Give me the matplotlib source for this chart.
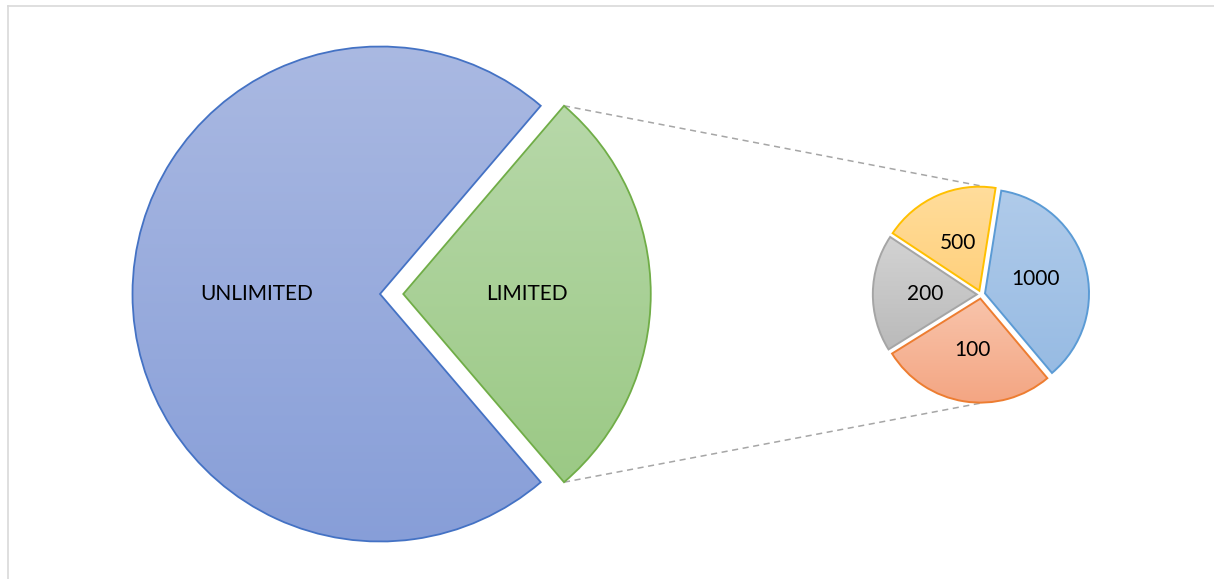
import numpy as np
import matplotlib
matplotlib.use("Agg")
import matplotlib.pyplot as plt
from matplotlib.colors import LinearSegmentedColormap

# main pie: unlimited vs limited plans
main_labels = ["UNLIMITED", "LIMITED"]
main_values = [29, 11]

# breakdown of the limited slice
sub_labels = ["1000", "100", "200", "500"]
sub_values = [4, 3, 2, 2]

W, H = 1214, 579

MAIN_STYLE = {
    "UNLIMITED": ("#AAB9E2", "#879ED8", "#4472C4"),
    "LIMITED": ("#B7D8A9", "#9BC985", "#70AD47"),
}
SUB_STYLE = {
    "1000": ("#B0CBEA", "#97BBE3", "#5B9BD5"),
    "100": ("#F8C4AB", "#F4A582", "#ED7D31"),
    "200": ("#D3D3D3", "#BABABA", "#A5A5A5"),
    "500": ("#FFDD9C", "#FFD07C", "#FFC000"),
}


def gradient_fill(ax, wedge, top, bottom):
    verts = wedge.get_path().vertices
    x0, y0 = verts.min(axis=0)
    x1, y1 = verts.max(axis=0)
    cmap = LinearSegmentedColormap.from_list("g", [bottom, top])
    grad = np.linspace(0, 1, 256).reshape(-1, 1)
    im = ax.imshow(grad, extent=(x0, x1, y0, y1), origin="lower", cmap=cmap,
                   aspect="auto", zorder=1, interpolation="bilinear")
    im.set_clip_path(wedge)
    wedge.set_facecolor("none")
    wedge.set_zorder(2)


fig = plt.figure(figsize=(W / 100, H / 100), dpi=100)
ax = fig.add_axes([0, 0, 1, 1])
plt.rcParams["font.family"] = ["Lato", "DejaVu Sans"]

# main pie, limited slice centred on the right and pulled out
# (pie offsets explode in data units, so scale by the radius)
c1 = (380, H - 294)
r1 = 247.5
start = 360 * main_values[1] / sum(main_values) / 2
wedges1, texts1 = ax.pie(main_values, labels=main_labels, center=c1, radius=r1,
                         explode=[0, 0.094 * r1], startangle=start,
                         counterclock=True, labeldistance=0.5, frame=True,
                         textprops={"fontsize": 15, "color": "black"})
for w, lab in zip(wedges1, main_labels):
    top, bot, edge = MAIN_STYLE[lab]
    w.set_edgecolor(edge)
    w.set_linewidth(1.3)
    gradient_fill(ax, w, top, bot)
for t in texts1:
    t.set_ha("center")
    t.set_va("center")
    t.set_zorder(3)

# secondary pie
c2 = (981, H - 294.5)
r2 = 104
wedges2, texts2 = ax.pie(sub_values, labels=sub_labels, center=c2, radius=r2,
                         explode=[0.04 * r2] * len(sub_values), startangle=81,
                         counterclock=False, labeldistance=0.5, frame=True,
                         textprops={"fontsize": 15, "color": "black"})
for w, lab in zip(wedges2, sub_labels):
    top, bot, edge = SUB_STYLE[lab]
    w.set_edgecolor(edge)
    w.set_linewidth(1.4)
    gradient_fill(ax, w, top, bot)
for t in texts2:
    t.set_ha("center")
    t.set_va("center")
    t.set_zorder(3)

# connector lines from the limited slice to the secondary pie
lim = wedges1[1]
cx, cy = lim.center
for ang, ty in [(lim.theta2, c2[1] + r2 * 1.04), (lim.theta1, c2[1] - r2 * 1.04)]:
    px = cx + lim.r * np.cos(np.radians(ang))
    py = cy + lim.r * np.sin(np.radians(ang))
    ax.plot([px, c2[0] + 2], [py, ty], color="#A6A6A6", lw=1.1,
            linestyle=(0, (4, 3)), zorder=0.5)

# chart area border (top and left visible)
ax.plot([8, W], [H - 6, H - 6], color="#D9D9D9", lw=1.2, zorder=0)
ax.plot([8, 8], [0, H - 6], color="#D9D9D9", lw=1.2, zorder=0)

ax.set_xlim(0, W)
ax.set_ylim(0, H)
ax.set_aspect("equal")
ax.axis("off")

fig.savefig("out.png", dpi=100)
